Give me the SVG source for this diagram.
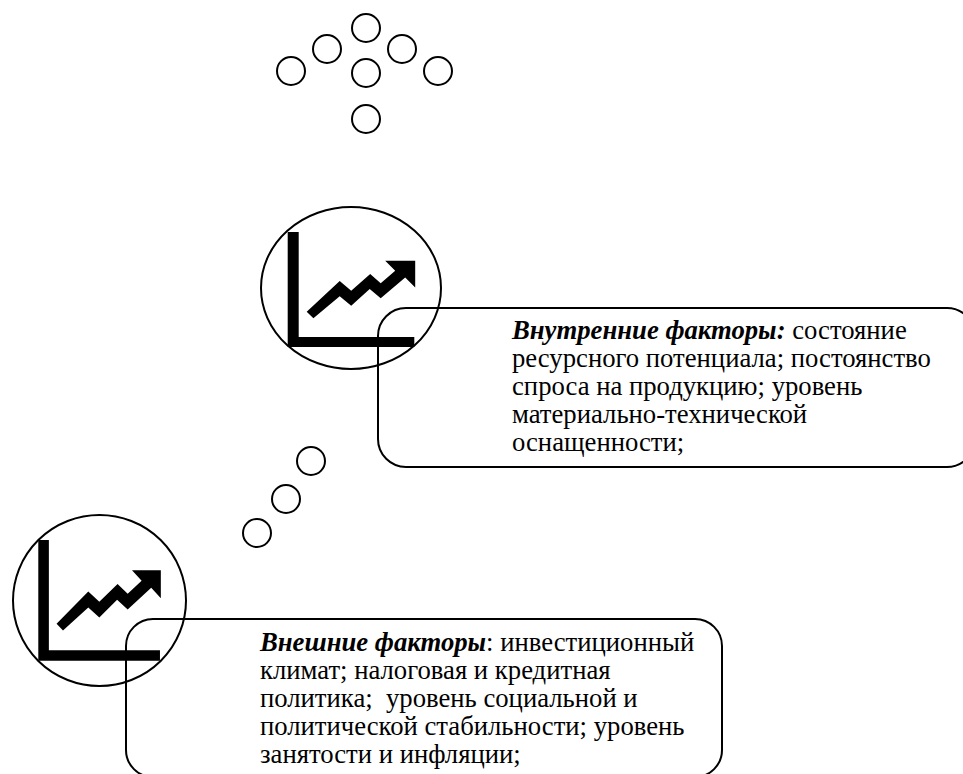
<svg xmlns="http://www.w3.org/2000/svg" width="963" height="774" viewBox="0 0 963 774">
<style>
.c{fill:none;stroke:#000;stroke-width:2}
.b{fill:none;stroke:#000;stroke-width:2}
.t{font-family:"Liberation Serif","Times New Roman",serif;font-size:26.700px;fill:#000}
.h{font-weight:bold;font-style:italic}
</style>
<defs>
<path id="chart" fill="#000" d="M0 0H11V105H126.600V115H0ZM19 79.700L52 49 63.500 58.700 82.500 42 93 51.300 107.500 38.700 97.500 28.700H127.500V55.400L117.500 45.400 93 66.300 82 57 63.500 73.700 52 64.300 25.700 86.300Z"/>
</defs>
<g id="dots-top">
<circle class="c" cx="366" cy="28" r="14"/>
<circle class="c" cx="327" cy="49" r="14"/>
<circle class="c" cx="402" cy="49" r="14"/>
<circle class="c" cx="291" cy="71" r="14"/>
<circle class="c" cx="438" cy="71" r="14"/>
<circle class="c" cx="366" cy="73" r="14"/>
<circle class="c" cx="366" cy="119" r="14"/>
</g>
<g id="dots-middle">
<circle class="c" cx="311" cy="461" r="14"/>
<circle class="c" cx="286" cy="499" r="14"/>
<circle class="c" cx="257" cy="533" r="14"/>
</g>
<g id="node-internal-icon">
<ellipse class="c" cx="351" cy="288" rx="90" ry="81"/>
<use href="#chart" transform="translate(287.700 232)"/>
</g>
<g id="node-external-icon">
<ellipse class="c" cx="99.500" cy="600.500" rx="86.500" ry="85.500"/>
<use href="#chart" transform="translate(38.300 540) scale(.961 1.05)"/>
</g>
<g id="node-internal">
<rect class="b" x="378" y="308" width="597" height="159" rx="28" ry="28"/>
<text class="t" x="512" y="339"><tspan class="h">Внутренние факторы:</tspan> состояние</text>
<text class="t" x="512" y="367">ресурсного потенциала; постоянство</text>
<text class="t" x="512" y="395">спроса на продукцию; уровень</text>
<text class="t" x="512" y="423">материально-технической</text>
<text class="t" x="512" y="451">оснащенности;</text>
</g>
<g id="node-external">
<rect class="b" x="126" y="619" width="596" height="158" rx="27" ry="27"/>
<text class="t" x="260" y="651"><tspan class="h">Внешние факторы</tspan>: инвестиционный</text>
<text class="t" x="260" y="679">климат; налоговая и кредитная</text>
<text class="t" x="260" y="707" xml:space="preserve">политика;  уровень социальной и</text>
<text class="t" x="260" y="735">политической стабильности; уровень</text>
<text class="t" x="260" y="763">занятости и инфляции;</text>
</g>
</svg>
